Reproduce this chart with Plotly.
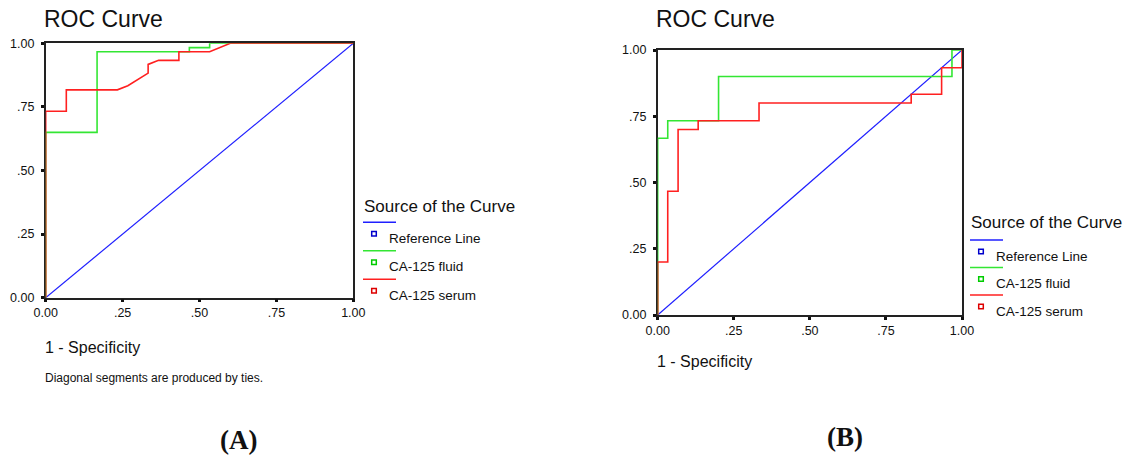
import plotly.graph_objects as go

W, H = 1125, 457

# ---------------- data ----------------
tick_vals = [0, 0.25, 0.5, 0.75, 1.0]
tick_text = ["0.00", ".25", ".50", ".75", "1.00"]

series_names = ["Reference Line", "CA-125 fluid", "CA-125 serum"]

# Panel A
a_ref_x = [0, 1]
a_ref_y = [0, 1]
a_fluid_x = [0, 0, 0.167, 0.167, 0.467, 0.467, 0.533, 0.533, 1]
a_fluid_y = [0, 0.65, 0.65, 0.967, 0.967, 0.983, 0.983, 1, 1]
a_serum_x = [0, 0, 0.067, 0.067, 0.233, 0.267, 0.333, 0.333, 0.367, 0.433, 0.433, 0.533, 0.6, 1]
a_serum_y = [0, 0.733, 0.733, 0.817, 0.817, 0.833, 0.883, 0.917, 0.933, 0.933, 0.967, 0.967, 1, 1]

# Panel B
b_ref_x = [0, 1]
b_ref_y = [0, 1]
b_fluid_x = [0, 0, 0.033, 0.033, 0.2, 0.2, 0.967, 0.967, 1]
b_fluid_y = [0, 0.667, 0.667, 0.733, 0.733, 0.9, 0.9, 1, 1]
b_serum_x = [0, 0, 0.033, 0.033, 0.067, 0.067, 0.133, 0.133, 0.333, 0.333, 0.833, 0.833, 0.933, 0.933, 1, 1]
b_serum_y = [0, 0.2, 0.2, 0.467, 0.467, 0.7, 0.7, 0.733, 0.733, 0.8, 0.8, 0.833, 0.833, 0.933, 0.933, 1]

# ---------------- styles ----------------
LINE_COLORS = ["#1f1fff", "#33e633", "#ff2020"]
MARK_COLORS = ["#0000cc", "#00cc00", "#dd0000"]
FONT = "Arial, Liberation Sans, sans-serif"


def px(x):
    return x / W


def py(y):
    return 1 - y / H


fig = go.Figure()

panels = [
    ("x", "y", [(a_ref_x, a_ref_y), (a_fluid_x, a_fluid_y), (a_serum_x, a_serum_y)]),
    ("x2", "y2", [(b_ref_x, b_ref_y), (b_fluid_x, b_fluid_y), (b_serum_x, b_serum_y)]),
]
for xa, ya, curves in panels:
    for i, (cx, cy) in enumerate(curves):
        fig.add_trace(go.Scatter(
            x=cx, y=cy, mode="lines", xaxis=xa, yaxis=ya,
            name=series_names[i], showlegend=False, hoverinfo="skip",
            line=dict(color=LINE_COLORS[i], width=1.2 if i == 0 else 1.6),
        ))

axis_common = dict(
    range=[0, 1], tickmode="array", tickvals=tick_vals, ticktext=tick_text,
    showgrid=False, zeroline=False, showline=True, linecolor="#222", linewidth=1.5,
    mirror=True, ticks="outside", ticklen=3, tickwidth=3, tickcolor="#111",
    tickfont=dict(family=FONT, size=12.5, color="#111"), layer="below traces",
    fixedrange=True, automargin=False,
)

fig.update_layout(
    width=W, height=H, margin=dict(l=0, r=0, t=0, b=0, autoexpand=False),
    paper_bgcolor="white", plot_bgcolor="white", showlegend=False,
    xaxis=dict(domain=[px(45.7), px(353.3)], anchor="y", **axis_common),
    yaxis=dict(domain=[py(297.7), py(43.3)], anchor="x", ticklabelstandoff=4, **axis_common),
    xaxis2=dict(domain=[px(657.7), px(962)], anchor="y2", **axis_common),
    yaxis2=dict(domain=[py(315), py(50)], anchor="x2", ticklabelstandoff=4, **axis_common),
)

ann = []


def text(x, y, s, size, bold=False, family=FONT, xanchor="left"):
    ann.append(dict(
        x=px(x), y=py(y), xref="paper", yref="paper", text=("<b>%s</b>" % s) if bold else s,
        showarrow=False, xanchor=xanchor, yanchor="middle",
        font=dict(family=family, size=size, color="#111"),
    ))


# titles
text(42, 19, "ROC Curve", 23)
text(654, 19, "ROC Curve", 23)
# axis titles
text(43, 347, "1 - Specificity", 16)
text(655, 361, "1 - Specificity", 16)
text(43, 378, "Diagonal segments are produced by ties.", 12)
# panel labels
text(238, 440, "(A)", 27, bold=True, family="Liberation Serif, Times New Roman, serif", xanchor="center")
text(845, 437, "(B)", 27, bold=True, family="Liberation Serif, Times New Roman, serif", xanchor="center")

shapes = []


def legend(x0, title_y, first_line_y, step):
    text(x0, title_y, "Source of the Curve", 17)
    for i, name in enumerate(series_names):
        ly = first_line_y + i * step
        shapes.append(dict(type="line", xref="paper", yref="paper",
                           x0=px(x0 + 1), x1=px(x0 + 34), y0=py(ly), y1=py(ly),
                           line=dict(color=LINE_COLORS[i], width=1.5)))
        sy = ly + 11.5
        sx = x0 + 12
        shapes.append(dict(type="rect", xref="paper", yref="paper",
                           x0=px(sx - 2.3), x1=px(sx + 2.3), y0=py(sy - 2.3), y1=py(sy + 2.3),
                           line=dict(color=MARK_COLORS[i], width=1.5), fillcolor="white"))
        text(x0 + 25, ly + 16, name, 13.5)


legend(362, 206, 222.3, 28.5)
legend(969, 223, 240, 27.5)

fig.update_layout(annotations=ann, shapes=shapes)
fig.write_html("out.html", config={"displayModeBar": False},
               post_script="document.body.style.margin='0';document.body.style.overflow='hidden';")
